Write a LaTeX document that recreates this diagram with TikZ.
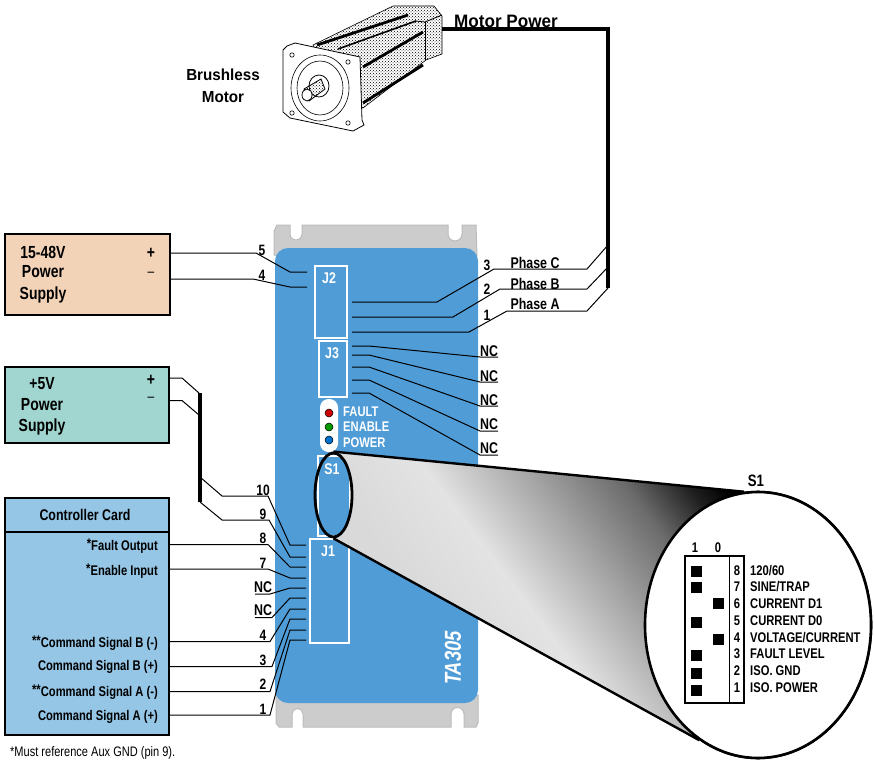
\documentclass[tikz,border=0pt]{standalone}
\usepackage{fontspec}
\setmainfont[FakeStretch=0.8]{Liberation Sans}
\newfontfamily\widerfont[FakeStretch=0.95]{Liberation Sans}
\usetikzlibrary{shapes.geometric,patterns}
\definecolor{drivebody}{RGB}{79, 156, 215}
\definecolor{driveplate}{RGB}{204, 204, 204}
\definecolor{plateedge}{RGB}{188, 188, 188}
\definecolor{mainsupply}{RGB}{243, 211, 184}
\definecolor{logicsupply}{RGB}{161, 213, 207}
\definecolor{cardfill}{RGB}{149, 198, 230}
\pgfdeclarehorizontalshading{lensfade}{100bp}{color(0bp)=(black!15); color(36bp)=(black!15); color(48bp)=(black!11); color(59bp)=(black!35); color(69bp)=(black!58); color(76bp)=(black!88); color(80bp)=(black); color(100bp)=(black)}
\tikzset{
	lbl/.style={inner sep=0pt, font=\bfseries\fontsize{14}{16}\selectfont},
	pslbl/.style={inner sep=0pt, font=\bfseries\fontsize{17.5}{20}\selectfont},
	phaselbl/.style={inner sep=0pt, font=\bfseries\fontsize{15.5}{18}\selectfont},
	motorlbl/.style={inner sep=0pt, font=\widerfont\bfseries\fontsize{16}{18}\selectfont},
	pinno/.style={inner sep=0pt, font=\bfseries\fontsize{15}{17}\selectfont},
	sw/.style={inner sep=0pt, font=\bfseries\fontsize{14}{16}\selectfont},
	onblue/.style={inner sep=0pt, text=white, font=\bfseries\fontsize{14}{16}\selectfont},
	jname/.style={inner sep=0pt, text=white, font=\bfseries\fontsize{15.5}{18}\selectfont},
	nolink/.style={inner sep=0pt, font=\bfseries\fontsize{15.5}{18}\selectfont},
	wire/.style={draw=black, line width=1pt},
	heavyline/.style={draw=black, line width=3.2pt},
	conn/.style={draw=white, line width=1.5pt, fill=none, inner sep=0pt},
	psbox/.style={draw=black, line width=2.4pt, inner sep=0pt},
	knob/.style={fill=black, minimum size=11pt, inner sep=0pt},
	led/.style={circle, draw=black, line width=0.5pt, minimum size=8pt, inner sep=0pt},
	stripe/.style={draw=black, line width=2.8pt}
}

\begin{document}
\begin{tikzpicture}[x=1pt, y=-1pt]
	\useasboundingbox (0, 0) rectangle (874, 762);

	% motor
	\filldraw [draw=black, line width=0.6pt, fill=white] (313, 45) -- (393, 6) -- (434, 6) -- (442, 16) -- (442, 54) -- (426, 60) -- (363, 108) -- (330, 80) -- cycle;
	\fill [pattern=crosshatch dots, pattern color=black] (313, 45) -- (393, 6) -- (434, 6) -- (442, 16) -- (442, 54) -- (426, 60) -- (363, 108) -- (330, 80) -- cycle;
	\draw [stripe] (317, 45) -- (408, 15);
	\draw [line width=1.6pt] (338, 49) -- (416, 21);
	\draw [stripe] (363, 67) -- (423, 32);
	\draw [stripe] (363, 103) -- (423, 65);
	\draw [line width=0.8pt] (425, 22) -- (425, 60);
	\draw [line width=0.8pt] (415, 21) -- (425, 22) -- (442, 15);
	\filldraw [draw=black, line width=0.8pt, fill=white] (283, 50) -- (287, 46) -- (295, 43) -- (360, 57) -- (362, 120) -- (364, 125) -- (353, 131) -- (290, 118) -- (283, 112) -- cycle;
	\draw [line width=0.6pt] (320, 88) ellipse [x radius=29, y radius=33];
	\draw [line width=0.6pt] (320, 88) ellipse [x radius=23, y radius=27];
	\draw [line width=0.6pt] (292, 55) circle [radius=2.2];
	\draw [line width=0.6pt] (348, 62) circle [radius=2.2];
	\draw [line width=0.6pt] (292, 113) circle [radius=2.2];
	\draw [line width=0.6pt] (348, 123) circle [radius=2.2];
	\draw [line width=0.8pt] (319, 86) ellipse [x radius=10, y radius=11];
	\filldraw [draw=black, line width=0.8pt, pattern=crosshatch dots, pattern color=black] (304, 89) -- (321, 79) -- (325, 89) -- (309, 101) -- cycle;
	\filldraw [draw=black, line width=0.8pt, fill=white] (307, 95) ellipse [x radius=5, y radius=6];
	\node[motorlbl] (motorname) at (223, 75) {Brushless};
	\node[motorlbl] (motorname2) at (223, 97) {Motor};
	\coordinate (motorout) at (442, 29);

	% drive
	\filldraw [draw=plateedge, line width=1pt, fill=driveplate] (274, 255) -- (274, 231) -- (277, 225) -- (290, 225) -- (290, 234) arc [start angle=180, end angle=0, radius=6] -- (302, 225) -- (448, 225) -- (448, 234) arc [start angle=180, end angle=0, radius=7] -- (462, 225) -- (476, 225) -- (477, 255) -- cycle;
	\filldraw [draw=plateedge, line width=1pt, fill=driveplate] (276, 695) -- (276, 723) -- (279, 727) -- (292, 727) -- (292, 714) arc [start angle=180, end angle=360, radius=5.5] -- (303, 727) -- (451, 727) -- (451, 714) arc [start angle=180, end angle=360, radius=6.5] -- (464, 727) -- (476, 727) -- (478, 723) -- (478, 695) -- cycle;
	\fill [fill=drivebody, rounded corners=13pt] (275, 248) rectangle (478, 703);
	\node[conn, rectangle, minimum width=32pt, minimum height=72pt] (J2) at (331, 302) {};
	\node[conn, rectangle, minimum width=28pt, minimum height=56pt] (J3) at (333, 369) {};
	\node[conn, rectangle, minimum width=32pt, minimum height=80pt] (S1) at (334, 496) {};
	\node[conn, rectangle, minimum width=39pt, minimum height=104pt] (J1) at (329.5, 591) {};
	\node[jname] (J2name) at (329, 278) {J2};
	\node[jname] (J3name) at (332, 353) {J3};
	\node[jname] (S1name) at (332, 469) {S1};
	\node[jname] (J1name) at (328, 551) {J1};
	\fill [white, rounded corners=8.5pt] (320, 399) rectangle (338, 452);
	\node[led, fill=red!80!black] (ledfault) at (329, 413) {};
	\node[led, fill=green!60!black] (ledenable) at (329, 427) {};
	\node[led, fill=blue!45!cyan!80!black] (ledpower) at (329, 440) {};
	\node[onblue, anchor=west] (faultname) at (343, 412) {FAULT};
	\node[onblue, anchor=west] (enablename) at (343, 427) {ENABLE};
	\node[onblue, anchor=west] (powername) at (343, 443) {POWER};
	\node[inner sep=0pt, text=white, rotate=90, font=\bfseries\itshape\fontsize{23}{26}\selectfont] (modelname) at (453, 658) {TA305};

	% switch blow-up
	\node[ellipse, draw=black, line width=2.6pt, fill=none, minimum width=226pt, minimum height=266pt, inner sep=0pt] (S1zoom) at (758, 625) {};
	\node[ellipse, line width=2.8pt, minimum width=37pt, minimum height=84pt, inner sep=0pt] (S1lens) at (333.5, 495) {};
	\shade [shading=lensfade, shading angle=37] (S1lens.north) -- (S1zoom.96) -- (S1zoom.243) -- (S1lens.south) .. controls +(24, 0) and +(24, 0) .. (S1lens.north);
	\draw [line width=2.4pt] (S1lens.north) -- (S1zoom.96);
	\draw [line width=2.4pt] (S1lens.south) -- (S1zoom.243);
	\draw [line width=2.8pt] (S1lens.center) ellipse [x radius=18.5, y radius=42];
	\filldraw [draw=black, line width=2.6pt, fill=white] (S1zoom.center) ellipse [x radius=113, y radius=133];
	\node[pslbl, font=\bfseries\fontsize{16.5}{18}\selectfont] (S1title) at (756, 481) {S1};
	\draw [line width=1.6pt] (685, 556) rectangle (744, 703);
	\draw [line width=1.6pt] (729.5, 556) -- (729.5, 703);
	\node[sw] (col1) at (695, 548) {1};
	\node[sw] (col0) at (718, 548) {0};

	\node[sw] (n8) at (737, 571) {8};
	\node[sw] (n7) at (737, 587) {7};
	\node[sw] (n6) at (737, 604) {6};
	\node[sw] (n5) at (737, 621) {5};
	\node[sw] (n4) at (737, 638) {4};
	\node[sw] (n3) at (737, 654) {3};
	\node[sw] (n2) at (737, 671) {2};
	\node[sw] (n1) at (737, 688) {1};
	\node[sw, anchor=west] (t8) at (n8 -| 750, 0) {120/60};
	\node[sw, anchor=west] (t7) at (n7 -| 750, 0) {SINE/TRAP};
	\node[sw, anchor=west] (t6) at (n6 -| 750, 0) {CURRENT D1};
	\node[sw, anchor=west] (t5) at (n5 -| 750, 0) {CURRENT D0};
	\node[sw, anchor=west] (t4) at (n4 -| 750, 0) {VOLTAGE/CURRENT};
	\node[sw, anchor=west] (t3) at (n3 -| 750, 0) {FAULT LEVEL};
	\node[sw, anchor=west] (t2) at (n2 -| 750, 0) {ISO. GND};
	\node[sw, anchor=west] (t1) at (n1 -| 750, 0) {ISO. POWER};
	\node[knob] (k8) at (696.5, 571) {};
	\node[knob] (k7) at (696.5, 587) {};
	\node[knob] (k6) at (718.5, 603) {};
	\node[knob] (k5) at (696.5, 622) {};
	\node[knob] (k4) at (718.5, 639) {};
	\node[knob] (k3) at (696.5, 655) {};
	\node[knob] (k2) at (696.5, 673) {};
	\node[knob] (k1) at (696.5, 690) {};

	% supplies
	\node[psbox, rectangle, fill=mainsupply, minimum width=165pt, minimum height=81pt] (mainps) at (87.5, 274.5) {};
	\node[pslbl] (mainps1) at (43, 252) {15-48V};
	\node[pslbl] (mainps2) at (43, 272) {Power};
	\node[pslbl] (mainps3) at (43, 295) {Supply};
	\node[pslbl] (mainplus) at (151, 253) {+};
	\node[inner sep=0pt, font=\fontsize{15}{17}\selectfont] (mainminus) at (151, 274) {–};
	\node[psbox, rectangle, fill=logicsupply, minimum width=164pt, minimum height=76pt] (logicps) at (87, 405) {};
	\node[pslbl] (logicps1) at (42, 384) {+5V};
	\node[pslbl] (logicps2) at (42, 405) {Power};
	\node[pslbl] (logicps3) at (42, 427) {Supply};
	\node[pslbl] (logicplus) at (151, 380) {+};
	\node[inner sep=0pt, font=\fontsize{15}{17}\selectfont] (logicminus) at (151, 399) {–};

	% controller card
	\node[psbox, rectangle, fill=cardfill, minimum width=164pt, minimum height=237pt] (card) at (87, 616.5) {};
	\draw [line width=2.4pt] (card.west |- 0, 532) -- (card.east |- 0, 532);
	\node[phaselbl] (cardtitle) at (85, 515) {Controller Card};
	\node[lbl, anchor=east] (faultout) at (158, 546) {\raisebox{2pt}{*}Fault Output};
	\node[lbl, anchor=east] (enablein) at (158, 571) {\raisebox{2pt}{*}Enable Input};
	\node[lbl, anchor=east] (cmdbm) at (158, 643) {\raisebox{2pt}{**}Command Signal B (-)};
	\node[lbl, anchor=east] (cmdbp) at (158, 667) {Command Signal B (+)};
	\node[lbl, anchor=east] (cmdam) at (158, 692) {\raisebox{2pt}{**}Command Signal A (-)};
	\node[lbl, anchor=east] (cmdap) at (158, 717) {Command Signal A (+)};
	\node[inner sep=0pt, anchor=west, font=\fontsize{13.8}{16}\selectfont] (footnote) at (10, 753) {*Must reference Aux GND (pin 9).};

	% wire ends at the connectors
	\coordinate (J2p5) at (307, 272);
	\coordinate (J2p4) at (307, 287);
	\coordinate (J2p3) at (352, 302);
	\coordinate (J2p2) at (352, 317);
	\coordinate (J2p1) at (352, 332);
	\coordinate (J3p1) at (352, 346);
	\coordinate (J3p2) at (352, 355);
	\coordinate (J3p3) at (352, 367);
	\coordinate (J3p4) at (352, 380);
	\coordinate (J3p5) at (352, 393);
	\coordinate (J1p10) at (306, 545);
	\coordinate (J1p9) at (306, 557);
	\coordinate (J1p8) at (306, 567);
	\coordinate (J1p7) at (306, 578);
	\coordinate (J1p6) at (306, 588);
	\coordinate (J1p5) at (306, 598);
	\coordinate (J1p4) at (306, 609);
	\coordinate (J1p3) at (306, 619);
	\coordinate (J1p2) at (306, 630);
	\coordinate (J1p1) at (306, 640);
	\coordinate (motorbus) at (608, 288);
	\coordinate (logicbus) at (200, 502);

	% power wiring
	\draw [heavyline] (motorout) -- (608, 29) -- (motorbus);
	\draw [wire] (mainps.east |- mainplus) -- (256, 253) -- (290, 272) -- (J2p5);
	\draw [wire] (mainps.east |- 0, 279) -- (253, 279) -- (290, 287) -- (J2p4);
	\draw [wire] (J2p3) -- (437, 302) -- (494, 269) -- (587, 269) -- (608, 245);
	\draw [wire] (J2p2) -- (453, 317) -- (500, 289) -- (587, 289) -- (608, 267);
	\draw [wire] (J2p1) -- (469, 332) -- (507, 311) -- (587, 311) -- (motorbus);
	\node[pinno] (pin5) at (262, 250) {5};
	\node[pinno] (pin4) at (262, 275) {4};
	\node[pinno] (pin3) at (487, 265) {3};
	\node[pinno] (pin2) at (487, 289) {2};
	\node[pinno] (pin1) at (487, 315) {1};
	\node[phaselbl] (phasec) at (535, 263) {Phase C};
	\node[phaselbl] (phaseb) at (535, 284) {Phase B};
	\node[phaselbl] (phasea) at (535, 304) {Phase A};
	\node[motorlbl, font=\widerfont\bfseries\fontsize{18}{20}\selectfont] (powerlabel) at (506, 21) {Motor Power};

	% unused J3 pins
	\node[nolink] (nc1) at (489, 351) {NC};
	\node[nolink] (nc2) at (489, 376) {NC};
	\node[nolink] (nc3) at (489, 400) {NC};
	\node[nolink] (nc4) at (489, 424) {NC};
	\node[nolink] (nc5) at (489, 448) {NC};
	\draw [wire] (J3p1) -- (369, 346) -- (480, 357) -- (498, 357);
	\draw [wire] (J3p2) -- (369, 355) -- (480, 382) -- (498, 382);
	\draw [wire] (J3p3) -- (369, 367) -- (480, 406) -- (498, 406);
	\draw [wire] (J3p4) -- (369, 380) -- (480, 431) -- (498, 431);
	\draw [wire] (J3p5) -- (369, 393) -- (480, 455) -- (498, 455);

	% logic wiring
	\draw [heavyline] (200, 393) -- (logicbus);
	\draw [wire] (logicps.east |- 0, 378) -- (182, 378) -- (199, 393);
	\draw [wire] (logicps.east |- 0, 400.5) -- (182, 400.5) -- (199, 415);
	\draw [wire] (200, 477) -- (222, 496) -- (268, 496) -- (290, 545) -- (J1p10);
	\draw [wire] (logicbus) -- (222, 520) -- (269, 520) -- (290, 557) -- (J1p9);
	\draw [wire] (card.east |- 0, 544.5) -- (268, 544.5) -- (290, 567) -- (J1p8);
	\draw [wire] (card.east |- 0, 569) -- (268, 569) -- (290, 578) -- (J1p7);
	\draw [wire] (255, 594) -- (270, 594) -- (290, 588) -- (J1p6);
	\draw [wire] (255, 617.5) -- (272, 617.5) -- (290, 598) -- (J1p5);
	\draw [wire] (card.east |- 0, 641.5) -- (270, 641.5) -- (290, 609) -- (J1p4);
	\draw [wire] (card.east |- 0, 666.5) -- (272, 666.5) -- (290, 619) -- (J1p3);
	\draw [wire] (card.east |- 0, 691.5) -- (270, 691.5) -- (290, 630) -- (J1p2);
	\draw [wire] (card.east |- 0, 715) -- (270, 715) -- (290, 640) -- (J1p1);
	\node[pinno] (pin10) at (263, 490) {10};
	\node[pinno] (pin9) at (263, 514) {9};
	\node[pinno] (pin8) at (263, 538) {8};
	\node[pinno] (pin7) at (263, 563) {7};
	\node[nolink] (nc6) at (263, 587) {NC};
	\node[nolink] (nc7) at (263, 610) {NC};
	\node[pinno] (pin4b) at (263, 635) {4};
	\node[pinno] (pin3b) at (263, 660) {3};
	\node[pinno] (pin2b) at (263, 684) {2};
	\node[pinno] (pin1b) at (263, 709) {1};
\end{tikzpicture}
\end{document}
